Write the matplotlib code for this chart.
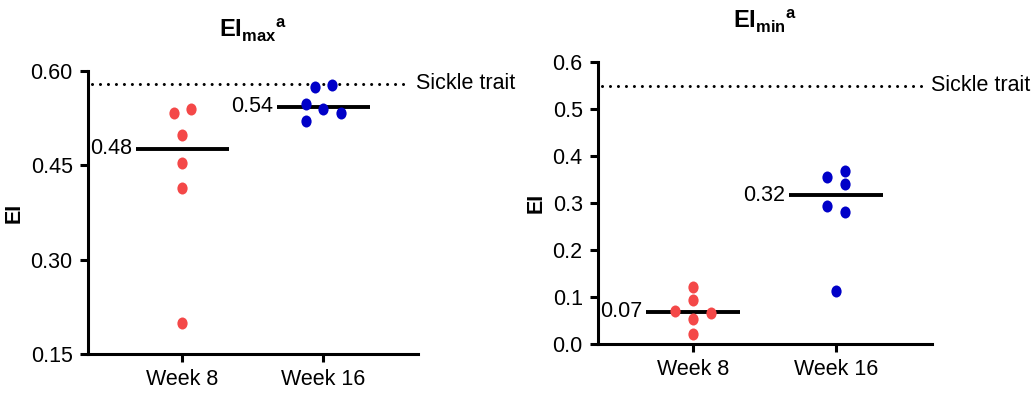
import numpy as np
import matplotlib
matplotlib.use('Agg')
from matplotlib import pyplot as plt
from matplotlib.markers import MarkerStyle
from matplotlib.transforms import Affine2D

plt.rcParams['font.family'] = ['Liberation Sans', 'DejaVu Sans']
plt.rcParams['mathtext.fontset'] = 'custom'
plt.rcParams['mathtext.rm'] = 'Liberation Sans'
plt.rcParams['mathtext.bf'] = 'Liberation Sans:bold'

# data
groups = ['Week 8', 'Week 16']

eimax_week8 = [0.533, 0.540, 0.499, 0.453, 0.414, 0.199]
eimax_week16 = [0.575, 0.578, 0.547, 0.540, 0.534, 0.520]
eimax_week8_swarm = [-0.06, 0.065, 0.0, 0.0, 0.0, 0.0]
eimax_week16_swarm = [-0.06, 0.06, -0.12, 0.0, 0.125, -0.12]
eimax_sickle = 0.58

eimin_week8 = [0.121, 0.094, 0.071, 0.067, 0.053, 0.021]
eimin_week16 = [0.355, 0.369, 0.340, 0.293, 0.281, 0.113]
eimin_week8_swarm = [0.0, 0.0, -0.125, 0.125, 0.0, 0.0]
eimin_week16_swarm = [-0.062, 0.062, 0.062, -0.062, 0.062, 0.0]
eimin_sickle = 0.55

RED = '#F44848'
BLUE = '#0000C8'
FS = 15.5
DOT = MarkerStyle('o', transform=Affine2D().scale(0.85, 1.0))


def draw_panel(ax, series, swarms, sickle, ylim, yticks, yfmt, title):
    colors = [RED, BLUE]
    for i, (vals, sw) in enumerate(zip(series, swarms)):
        pos = i + 1
        ax.scatter(pos + np.array(sw), vals, s=75, color=colors[i], zorder=3,
                   linewidths=0, marker=DOT)
        med = np.median(vals)
        ax.plot([pos - 0.33, pos + 0.33], [med, med], color='black', lw=2.8,
                solid_capstyle='butt', zorder=2)
        ax.text(pos - 0.355, med, '%.2f' % med, ha='right', va='center',
                fontsize=FS)

    # sickle trait reference line
    ax.plot([0.36, 2.62], [sickle, sickle], color='black', lw=2.2,
            linestyle=(0, (0.01, 2.6)), dash_capstyle='round', clip_on=False)
    ax.text(2.66, sickle, 'Sickle trait', ha='left', va='center', fontsize=FS,
            clip_on=False)

    ax.set_xlim(0.333, 2.67)
    ax.set_ylim(*ylim)
    ax.set_yticks(yticks)
    ax.set_yticklabels([yfmt % t for t in yticks])
    ax.set_xticks([1, 2])
    ax.set_xticklabels(groups)
    ax.tick_params(labelsize=FS, width=2.2, length=6)
    ax.tick_params(axis='x', pad=5)
    ax.tick_params(axis='y', pad=5)
    ax.set_ylabel('EI', fontsize=FS, fontweight='bold', labelpad=4)
    ax.set_title(title, fontsize=17, pad=24)
    for s in ['top', 'right']:
        ax.spines[s].set_visible(False)
    for s in ['left', 'bottom']:
        ax.spines[s].set_linewidth(2.2)


fig = plt.figure(figsize=(10.34, 3.98), dpi=100)
ax1 = fig.add_axes([0.0851, 0.1106, 0.319, 0.711])
ax2 = fig.add_axes([0.5783, 0.1357, 0.323, 0.7085])

draw_panel(ax1, [eimax_week8, eimax_week16],
           [eimax_week8_swarm, eimax_week16_swarm], eimax_sickle,
           (0.15, 0.60), [0.15, 0.30, 0.45, 0.60], '%.2f',
           r'$\mathbf{EI}_{\mathbf{max}}{}^{\mathbf{a}}$')
draw_panel(ax2, [eimin_week8, eimin_week16],
           [eimin_week8_swarm, eimin_week16_swarm], eimin_sickle,
           (0.0, 0.6), [0.0, 0.1, 0.2, 0.3, 0.4, 0.5, 0.6], '%.1f',
           r'$\mathbf{EI}_{\mathbf{min}}{}^{\mathbf{a}}$')

plt.savefig('out.png', dpi=100)
plt.close()
